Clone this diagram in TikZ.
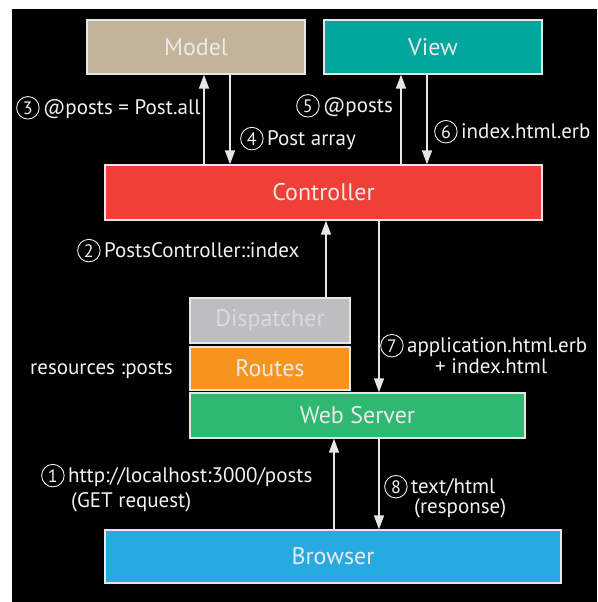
\documentclass[tikz,border=0pt]{standalone}
\usepackage{fontspec}
\setmainfont{PT Sans}
\usetikzlibrary{arrows.meta}

\definecolor{modelc}{HTML}{C2B49A}
\definecolor{viewc}{HTML}{00A79D}
\definecolor{ctrlc}{HTML}{EE4036}
\definecolor{dispc}{HTML}{BCBEC0}
\definecolor{routec}{HTML}{F7941D}
\definecolor{webc}{HTML}{2EB872}
\definecolor{browc}{HTML}{27AAE1}
\definecolor{edgec}{HTML}{E6E6E6}
\definecolor{inkc}{HTML}{F2F2F2}
\definecolor{boxtxt}{HTML}{EAEAEA}
\definecolor{disptxt}{HTML}{DADBDC}

% circled step number, sitting on the text baseline
\newcommand\stepno[1]{\tikz[baseline=0pt]\node[anchor=base,circle,draw=inkc,line width=0.9pt,
  inner sep=0pt,minimum size=22.5pt,text=inkc,font=\fontsize{18}{18}\selectfont]{#1};\hspace{3.5pt}}

\begin{document}
\begin{tikzpicture}[x=1pt,y=-1pt,
  box/.style={draw=edgec,line width=1.4pt,inner sep=0pt,text=boxtxt,
    font=\fontsize{24}{24}\selectfont},
  lbl/.style={anchor=base west,inner sep=0pt,text=inkc,
    font=\fontsize{21}{24}\selectfont},
  arr/.style={draw=edgec,line width=1.6pt,-{Triangle[length=14pt,width=10pt]}}]

\useasboundingbox (0,0) rectangle (597,602);
\fill[black] (12,9) rectangle (597,602);

% layers of the request cycle
\node[box,fill=modelc,minimum width=218pt,minimum height=54pt] (model) at (196,47) {Model};
\node[box,fill=viewc,minimum width=218pt,minimum height=54pt] (view) at (433,47) {View};
\node[box,fill=ctrlc,minimum width=437pt,minimum height=55pt] (ctrl) at (323.5,192.5) {Controller};
\node[box,fill=dispc,minimum width=160pt,minimum height=45pt,text=disptxt] (disp) at (270,320.5) {Dispatcher};
\node[box,fill=routec,minimum width=160pt,minimum height=43pt] (routes) at (270,368.5) {Routes};
\node[box,fill=webc,minimum width=335pt,minimum height=45pt] (web) at (357.5,415.5) {Web Server};
\node[box,fill=browc,minimum width=456pt,minimum height=53pt] (browser) at (333,556.5) {Browser};

% request / response arrows
\draw[arr] ([xshift=8pt]model.south |- ctrl.north) -- ([xshift=8pt]model.south);
\draw[arr] ([xshift=34pt]model.south) -- ([xshift=34pt]model.south |- ctrl.north);
\draw[arr] ([xshift=-32pt]view.south |- ctrl.north) -- ([xshift=-32pt]view.south);
\draw[arr] ([xshift=-6pt]view.south) -- ([xshift=-6pt]view.south |- ctrl.north);
\draw[arr] ([xshift=56pt]disp.north) -- ([xshift=56pt]disp.north |- ctrl.south);
\draw[arr] ([xshift=21.5pt]web.north |- ctrl.south) -- ([xshift=21.5pt]web.north);
\draw[arr] ([xshift=1pt]browser.north) -- ([xshift=1pt]browser.north |- web.south);
\draw[arr] ([xshift=21.5pt]web.south) -- ([xshift=21.5pt]web.south |- browser.north);

% step labels
\node[lbl] (l3) at (16,114) {\stepno{3}@posts = Post.all};
\node[lbl] (l4) at (240,145) {\stepno{4}Post array};
\node[lbl] (l5) at (296,112) {\stepno{5}@posts};
\node[lbl] (l6) at (434,138) {\stepno{6}index.html.erb};
\node[lbl] (l2) at (77,257) {\stepno{2}PostsController::index};
\node[lbl] (lr) at (30,374) {resources :posts};
\node[lbl] (l7) at (380,352) {\stepno{7}application.html.erb};
\node[lbl] (l7b) at (435,373) {+ index.html};
\node[lbl] (l1) at (41,482) {\stepno{1}http://localhost:3000/posts};
\node[lbl] (l1b) at (71,507) {(GET request)};
\node[lbl] (l8) at (384,493) {\stepno{8}text/html};
\node[lbl] (l8b) at (414,513) {(response)};
\end{tikzpicture}
\end{document}
